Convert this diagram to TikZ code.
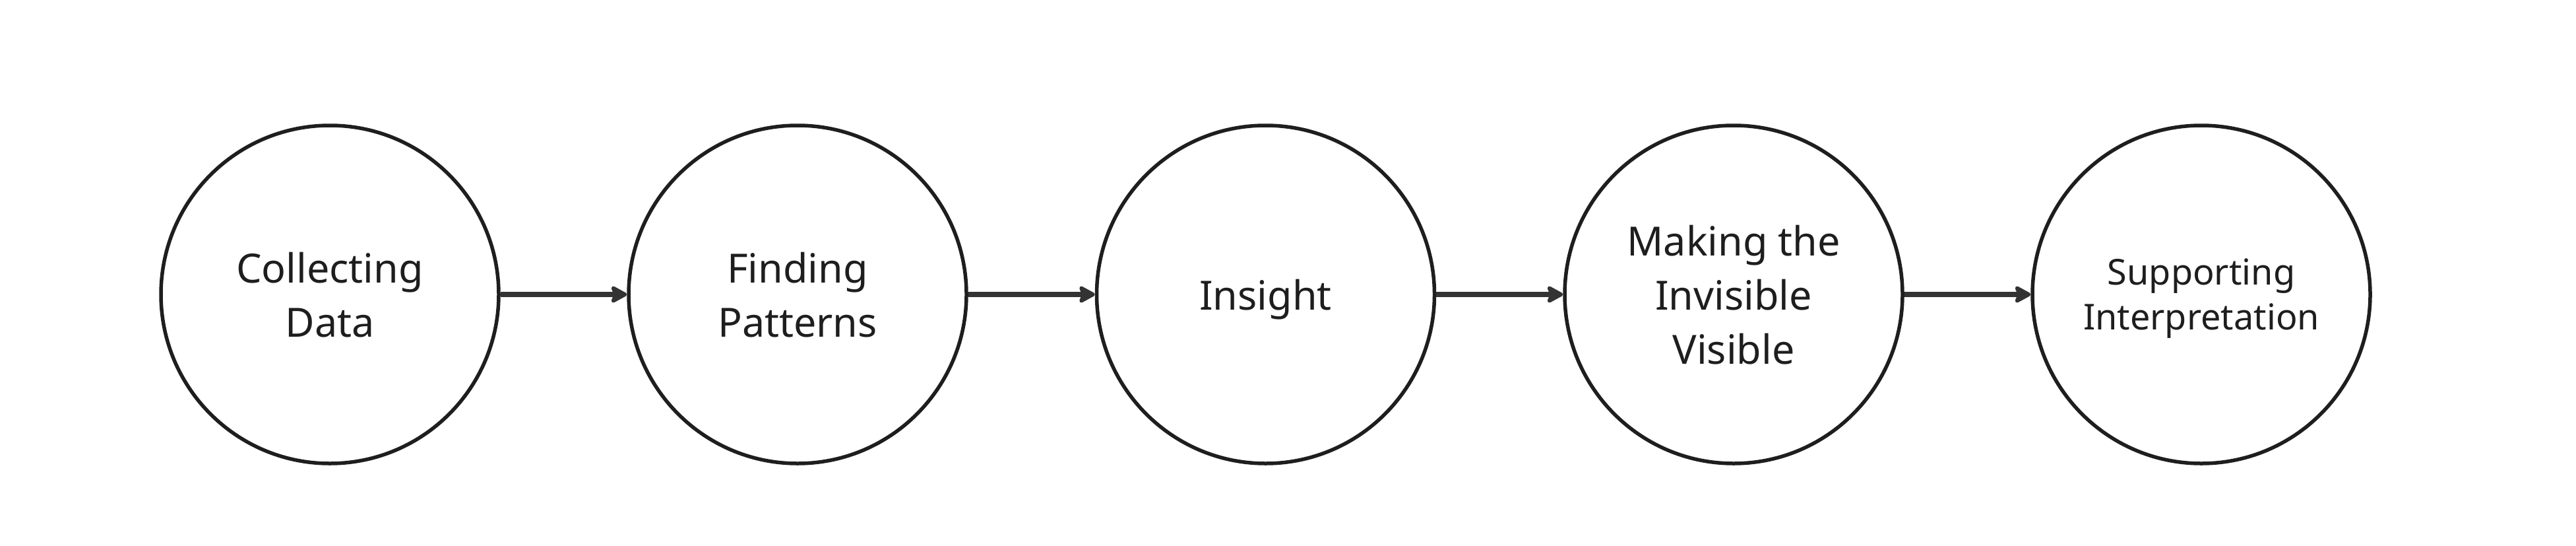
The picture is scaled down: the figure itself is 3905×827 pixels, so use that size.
\documentclass[tikz,border=0pt]{standalone}
\usepackage{fontspec}
\setmainfont{Noto Sans}
\usetikzlibrary{arrows.meta}
\definecolor{ink}{HTML}{1E1E1E}
\definecolor{arrowink}{HTML}{333333}
\begin{document}
\begin{tikzpicture}[x=1pt,y=-1pt,
  stage/.style={circle, draw=ink, line width=5.5pt, minimum size=512pt, inner sep=0pt,
    align=center, text=ink, text depth=0pt, font=\fontsize{61}{82}\selectfont},
  smalltext/.style={font=\fontsize{54}{68}\selectfont},
  flow/.style={draw=arrowink, line width=8pt,
    -{Stealth[length=29pt, width=31pt, inset=6pt, round]}}]
\useasboundingbox (0,0) rectangle (3905,827);
\node[stage] (s1) at (500,446) {Collecting\\Data};
\node[stage] (s2) at (1209,446) {Finding\\Patterns};
\node[stage] (s3) at (1918.5,446) {Insight};
\node[stage] (s4) at (2628,446) {Making the\\Invisible\\Visible};
\node[stage, smalltext] (s5) at (3337,446) {Supporting\\Interpretation};
\draw[flow] (s1) -- (s2);
\draw[flow] (s2) -- (s3);
\draw[flow] (s3) -- (s4);
\draw[flow] (s4) -- (s5);
\end{tikzpicture}
\end{document}
